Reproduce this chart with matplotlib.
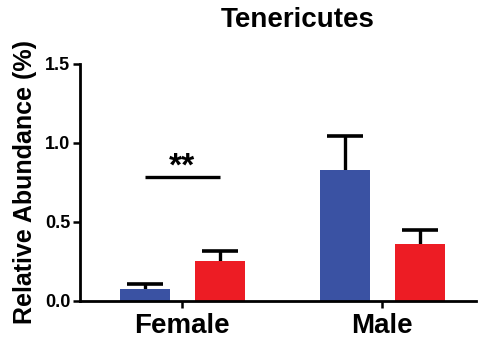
import matplotlib
matplotlib.use("Agg")
import matplotlib.pyplot as plt
import numpy as np

plt.rcParams['font.family'] = ['Liberation Sans', 'DejaVu Sans']
plt.rcParams['font.weight'] = 'bold'

groups = ["Female", "Male"]
series_names = ["Group A", "Group B"]
means = {
    "Group A": [0.07, 0.83],
    "Group B": [0.25, 0.36],
}
errors = {
    "Group A": [0.035, 0.215],
    "Group B": [0.065, 0.09],
}
colors = {"Group A": "#3a52a3", "Group B": "#ed1c24"}
yticks = [0.0, 0.5, 1.0, 1.5]
sig_label = "**"
sig_height = 0.786

fig = plt.figure(figsize=(4.78, 3.38), dpi=100)
ax = fig.add_axes([80 / 478, 1 - 300.5 / 338, 396 / 478, 236.5 / 338])

x = np.arange(len(groups))
width = 0.25
cap_half = 0.09
offsets = [-0.1875, 0.1875]
for name, off in zip(series_names, offsets):
    pos = x + off
    m = np.array(means[name])
    top = m + np.array(errors[name])
    ax.bar(pos, m, width=width, color=colors[name], zorder=2)
    # upper-only error bars: stem from the bar top, cap at mean + error
    ax.vlines(pos, m, top, color='black', lw=2.4, zorder=1)
    ax.hlines(top, pos - cap_half, pos + cap_half, color='black', lw=2.6, zorder=1)

# significance bar over the Female pair
ax.plot([x[0] + offsets[0], x[0] + offsets[1]], [sig_height, sig_height],
        color='black', lw=2.4, solid_capstyle='butt')
ax.text(x[0], sig_height - 0.04, sig_label, ha='center', va='bottom',
        fontsize=24, fontweight='bold')

ax.set_xlim(-0.51, 1.47)
ax.set_ylim(0, 1.5)
ax.set_yticks(yticks)
ax.set_yticklabels([f"{v:.1f}" for v in yticks])
ax.set_xticks(x)
ax.set_xticklabels(groups, fontsize=20, fontweight='bold')
ax.tick_params(axis='y', labelsize=13, width=1.8, length=5, pad=2)
ax.tick_params(axis='x', width=1.8, length=5, pad=4)
for side in ['top', 'right']:
    ax.spines[side].set_visible(False)
for side in ['left', 'bottom']:
    ax.spines[side].set_linewidth(2)

ax.set_ylabel("Relative Abundance (%)", fontsize=18, fontweight='bold', labelpad=6)
fig.text(298 / 478, 1 - 20 / 338, "Tenericutes", ha='center', va='center',
         fontsize=20, fontweight='bold')

fig.savefig("out.png", dpi=100)
